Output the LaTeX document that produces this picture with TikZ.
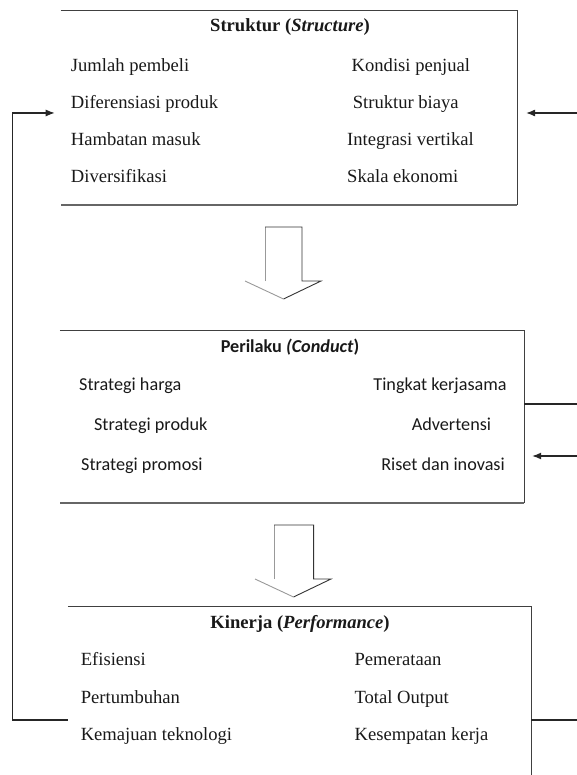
\documentclass[tikz,border=0pt]{standalone}
\usepackage{fontspec}
\setmainfont{Liberation Serif}
\newfontfamily\calibri{Carlito}
\usetikzlibrary{shapes,arrows.meta}

\begin{document}
\begin{tikzpicture}[x=1pt,y=-1pt,>={Latex[length=9pt,width=7pt]},
  box/.style={rectangle, inner sep=0pt},
  border/.style={draw=black!75, line width=1.2pt},
  shadowline/.style={draw=black!60, line width=2.2pt},
  loop/.style={draw=black!85, line width=1.1pt},
  item/.style={anchor=base west, inner sep=0pt, text=black!90, font=\fontsize{18.6}{20}\selectfont},
  ritem/.style={item, anchor=base east},
  citem/.style={item, font=\fontsize{18.2}{20}\selectfont\calibri},
  critem/.style={citem, anchor=base east},
  title/.style={anchor=base, inner sep=0pt, text=black!90, font=\fontsize{18.6}{20}\selectfont\bfseries},
  ctitle/.style={title, font=\fontsize{18.2}{20}\selectfont\calibri\bfseries},
  dark/.style={draw=black!80, line width=0.9pt},
  faint/.style={draw=black!40, line width=0.9pt}]

  \useasboundingbox (0,0) rectangle (577,775);

  % Struktur
  \node[box, minimum width=456pt, minimum height=194pt] (struktur) at (288.9,108) {};
  \draw[border] (struktur.north west) -- (struktur.north east) -- (struktur.south east);
  \draw[shadowline] (struktur.south east) -- (struktur.south west);

  \node[title] (tstruktur) at (290,32) {Struktur (\textit{Structure})};
  \node[item] (jumlah) at (70.7,71.7) {Jumlah pembeli};
  \node[item] (diferensiasi) at (70.7,108.5) {Diferensiasi produk};
  \node[item] (hambatan) at (70.7,146) {Hambatan masuk};
  \node[item] (diversifikasi) at (70.7,183) {Diversifikasi};
  \node[item] (kondisi) at (351.5,71.7) {Kondisi penjual};
  \node[item] (biaya) at (352.6,108.5) {Struktur biaya};
  \node[item] (integrasi) at (347,146) {Integrasi vertikal};
  \node[item] (skala) at (347,183) {Skala ekonomi};

  % Perilaku
  \node[box, minimum width=464pt, minimum height=172pt] (perilaku) at (292,417) {};
  \draw[border] (perilaku.north west) -- (perilaku.north east) -- (perilaku.south east);
  \draw[shadowline] (perilaku.south east) -- (perilaku.south west);

  \node[ctitle] (tperilaku) at (290,352) {Perilaku \textit{(Conduct})};
  \node[citem] (harga) at (79,390) {Strategi harga};
  \node[citem] (produk) at (93.9,430) {Strategi produk};
  \node[citem] (promosi) at (81,470) {Strategi promosi};
  \node[critem] (kerjasama) at (506.8,390) {Tingkat kerjasama};
  \node[critem] (advertensi) at (491.3,430) {Advertensi};
  \node[critem] (riset) at (505,470) {Riset dan inovasi};

  % Kinerja
  \node[box, minimum width=463pt, minimum height=168pt] (kinerja) at (299.5,691) {};
  \draw[border] (kinerja.north west) -- (kinerja.north east) -- (kinerja.south east);

  \node[title] (tkinerja) at (300,628) {Kinerja (\textit{Performance})};
  \node[item] (efisiensi) at (80.6,665) {Efisiensi};
  \node[item] (pertumbuhan) at (80.6,703) {Pertumbuhan};
  \node[item] (kemajuan) at (80.6,740) {Kemajuan teknologi};
  \node[item] (pemerataan) at (354.4,665) {Pemerataan};
  \node[item] (total) at (354.4,703) {Total Output};
  \node[item] (kesempatan) at (354.4,740) {Kesempatan kerja};

  % block arrows
  \draw[faint] (265,281) -- (265,227);
  \draw[faint] (245,281) -- (283.5,299);
  \draw[dark] (265,227) -- (302,227) -- (302,281) -- (321,281) -- (283.5,299);
  \draw[faint] (274,579) -- (274,525);
  \draw[faint] (255,579) -- (293.5,597);
  \draw[dark] (274,525) -- (313.6,525) -- (313.6,579) -- (331,579) -- (293.5,597);

  % feedback lines
  \coordinate (loopB) at (12.5,720);
  \coordinate (loopT) at (12.5,113);
  \draw[loop,->,shorten >=6pt] (kinerja.west |- loopB) -- (loopB) -- (loopT) -- (struktur.west |- loopT);

  \coordinate (rinS) at (577,113);
  \draw[loop,->,shorten >=9pt] (rinS) -- (struktur.east |- rinS);
  \coordinate (routP) at (577,404);
  \draw[loop] (perilaku.east |- routP) -- (routP);
  \coordinate (rinP) at (577,456);
  \draw[loop,->,shorten >=8pt] (rinP) -- (perilaku.east |- rinP);
  \coordinate (routK) at (577,720);
  \draw[loop] (kinerja.east |- routK) -- (routK);
\end{tikzpicture}
\end{document}
